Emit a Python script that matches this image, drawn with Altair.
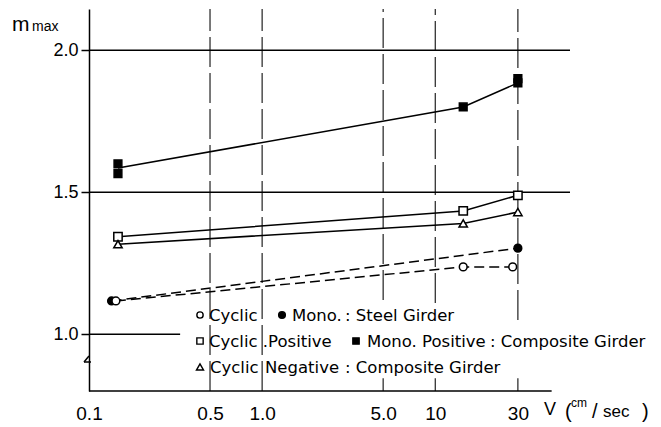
import altair as alt
import pandas as pd

FONT = "Liberation Sans"
LFONT = "DejaVu Sans"

# ---- data ----
mono_pos_x = [0.147, 0.147, 14.5, 30, 30]
mono_pos_y = [1.60, 1.565, 1.80, 1.90, 1.885]
mono_pos_line_x = [0.147, 14.5, 30]
mono_pos_line_y = [1.585, 1.80, 1.885]

cyc_pos_x = [0.147, 14.5, 30]
cyc_pos_y = [1.343, 1.434, 1.489]

cyc_neg_x = [0.147, 14.5, 30]
cyc_neg_y = [1.317, 1.390, 1.430]

mono_steel_x = [0.135, 30]
mono_steel_y = [1.117, 1.303]

cyc_steel_x = [0.143, 14.5, 28]
cyc_steel_y = [1.117, 1.237, 1.237]

grid_x = [0.5, 1.0, 5.0, 5.0, 10, 10, 30, 30]
grid_y1 = [0.8, 0.8, 1.12, 0.8, 1.11, 0.8, 1.05, 0.8]
grid_y2 = [2.145, 2.145, 2.145, 0.845, 2.145, 0.845, 2.145, 0.845]

hline_y = [2.0, 1.5, 1.0]
hline_x1 = [0.1, 0.1, 0.1]
hline_x2 = [60, 60, 0.336]

x_ticks = [0.1, 0.5, 1.0, 5.0, 10, 30]
x_tick_labels = ["0.1", "0.5", "1.0", "5.0", "10", "30"]
y_ticks = [1.0, 1.5, 2.0]

# ---- scales ----
OX, OY = 89, 9  # page position of plot origin
XS = alt.Scale(type="log", domain=[0.1, 60], nice=False)
YS = alt.Scale(domain=[0.8, 2.145], nice=False, zero=False)

label_expr = " : ".join(
    f"datum.value == {v} ? '{l}'" for v, l in zip(x_ticks, x_tick_labels)
) + " : ''"

X_AXIS = alt.Axis(values=x_ticks, labelExpr=label_expr, domain=False, ticks=False,
                  grid=False, labelFont=FONT, labelFontSize=19, labelColor="black",
                  labelPadding=13, title=None, labelFlush=False)
Y_AXIS = alt.Axis(values=y_ticks, format=".1f", domain=True, domainColor="black",
                  domainWidth=1.5, ticks=True, tickSize=8, tickColor="black",
                  tickWidth=1.5, grid=False, labelFont=FONT, labelFontSize=18,
                  labelColor="black", labelPadding=3, title=None)


def X(field="x"):
    return alt.X(f"{field}:Q", scale=XS, axis=X_AXIS)


def Y(field="y"):
    return alt.Y(f"{field}:Q", scale=YS, axis=Y_AXIS)


one = pd.DataFrame({"a": [0]})


def txt(s, px, py, size, align="left", baseline="alphabetic", font=FONT):
    return alt.Chart(one).mark_text(
        text=s, fontSize=size, align=align, baseline=baseline, font=font, color="black"
    ).encode(x=alt.value(px - OX), y=alt.value(py - OY))


def sym(shape, filled, px, py, size=45):
    return alt.Chart(one).mark_point(
        shape=shape, filled=True, fill="black" if filled else "white",
        stroke="black", strokeWidth=1.4, size=size, opacity=1,
    ).encode(x=alt.value(px - OX), y=alt.value(py - OY))


def seg(x1, y1, x2, y2):
    return alt.Chart(one).mark_rule(color="black", strokeWidth=1.5).encode(
        x=alt.value(x1 - OX), y=alt.value(y1 - OY), x2=alt.value(x2 - OX), y2=alt.value(y2 - OY)
    )


layers = []

# vertical dashed grid
grid_df = pd.DataFrame({"x": grid_x, "y": grid_y1, "y2": grid_y2})
layers.append(
    alt.Chart(grid_df).mark_rule(color="#222", strokeWidth=1.2, strokeDash=[30, 6]).encode(
        x=X(), y=Y(), y2="y2:Q",
    )
)

# horizontal solid lines
h_df = pd.DataFrame({"y": hline_y, "x": hline_x1, "x2": hline_x2})
layers.append(
    alt.Chart(h_df).mark_rule(color="black", strokeWidth=1.6).encode(x=X(), x2="x2:Q", y=Y())
)

# x axis baseline
base_df = pd.DataFrame({"x": [0.1], "x2": [47], "y": [0.8]})
layers.append(
    alt.Chart(base_df).mark_rule(color="black", strokeWidth=1.6).encode(x=X(), x2="x2:Q", y=Y())
)


def line(xs, ys, dash=None):
    df = pd.DataFrame({"x": xs, "y": ys})
    kw = dict(color="black", strokeWidth=1.5)
    if dash:
        kw["strokeDash"] = dash
    return alt.Chart(df).mark_line(**kw).encode(x=X(), y=Y())


layers.append(line(mono_pos_line_x, mono_pos_line_y))
layers.append(line(cyc_pos_x, cyc_pos_y))
layers.append(line(cyc_neg_x, cyc_neg_y))
layers.append(line(mono_steel_x, mono_steel_y, [10, 5]))
layers.append(line(cyc_steel_x, cyc_steel_y, [10, 5]))


def pts(xs, ys, shape, filled, size):
    df = pd.DataFrame({"x": xs, "y": ys})
    return alt.Chart(df).mark_point(
        shape=shape, filled=True, fill="black" if filled else "white",
        stroke="black", strokeWidth=1.5, size=size, opacity=1,
    ).encode(x=X(), y=Y())


layers.append(pts(mono_pos_x, mono_pos_y, "square", True, 60))
layers.append(pts(cyc_pos_x, cyc_pos_y, "square", False, 70))
layers.append(pts(cyc_neg_x, cyc_neg_y, "triangle-up", False, 70))
layers.append(pts(mono_steel_x, mono_steel_y, "circle", True, 60))
layers.append(pts(cyc_steel_x, cyc_steel_y, "circle", False, 60))

# y axis title m_max
layers.append(txt("m", 12, 31, 21))
layers.append(txt("max", 32, 31, 14))

# axis break (small zigzag on the y axis)
layers.append(seg(89, 356, 84, 362))
layers.append(seg(84, 362, 91, 362))

# x axis title
layers.append(txt("V", 544, 415, 18))
layers.append(txt("(", 565, 418, 20))
layers.append(txt("cm", 571, 407, 12))
layers.append(txt("/", 592, 418, 20))
layers.append(txt("sec", 603, 417, 17))
layers.append(txt(")", 642, 418, 20))

# legend
LS = 16.5
layers.append(sym("circle", False, 200, 315, 40))
layers.append(txt("Cyclic", 209, 321, LS, font=LFONT))
layers.append(sym("circle", True, 282, 315, 45))
layers.append(txt("Mono.", 292, 321, LS, font=LFONT))
layers.append(txt(": Steel Girder", 345, 321, LS, font=LFONT))

layers.append(sym("square", False, 200, 341, 40))
layers.append(txt("Cyclic .Positive", 209, 347, LS, font=LFONT))
layers.append(sym("square", True, 356, 341, 40))
layers.append(txt("Mono. Positive", 367, 347, LS, font=LFONT))
layers.append(txt(": Composite Girder", 490, 347, LS, font=LFONT))

layers.append(sym("triangle-up", False, 200, 367, 50))
layers.append(txt("Cyclic", 210, 373, LS, font=LFONT))
layers.append(txt("Negative", 265, 373, LS, font=LFONT))
layers.append(txt(": Composite Girder", 345, 373, LS, font=LFONT))

chart = alt.layer(*layers).properties(
    width=481,
    height=382,
    padding={"left": OX - 8, "top": OY - 8, "right": 82, "bottom": 36},
    autosize=alt.AutoSizeParams(type="none"),
).configure_view(stroke=None)

chart.save("out.html", embed_options={"renderer": "svg", "actions": False})
